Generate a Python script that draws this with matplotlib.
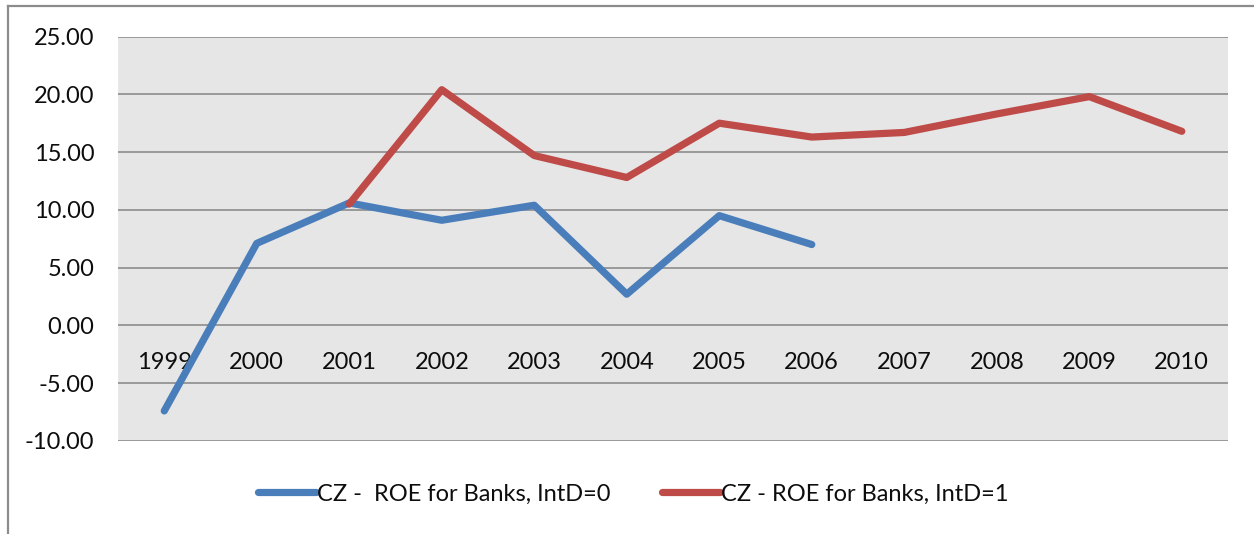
import matplotlib
matplotlib.use("Agg")
import matplotlib.pyplot as plt
from matplotlib.lines import Line2D
import numpy as np

years = ["1999", "2000", "2001", "2002", "2003", "2004",
         "2005", "2006", "2007", "2008", "2009", "2010"]
roe_intd0 = [-7.4, 7.1, 10.6, 9.1, 10.4, 2.7, 9.5, 7.0,
             np.nan, np.nan, np.nan, np.nan]
roe_intd1 = [np.nan, np.nan, 10.5, 20.4, 14.7, 12.8, 17.5, 16.3,
             16.7, 18.3, 19.8, 16.8]
y_ticks = [-10, -5, 0, 5, 10, 15, 20, 25]

label0 = "CZ -  ROE for Banks, IntD=0"
label1 = "CZ - ROE for Banks, IntD=1"

plt.rcParams["font.family"] = ["Lato", "DejaVu Sans"]
plt.rcParams["axes.unicode_minus"] = False

FS = 17
TEXT = "#0d0d0d"

fig = plt.figure(figsize=(12.54, 5.34), dpi=100)
ax = fig.add_axes([0.0941, 0.1742, 0.8852, 0.7574])
ax.set_facecolor("#e6e6e6")

x = np.arange(len(years))
ax.plot(x, roe_intd0, color="#4a7ebb", lw=5.2,
        solid_capstyle="round", solid_joinstyle="round", label=label0, zorder=3)
ax.plot(x, roe_intd1, color="#be4b48", lw=5.2,
        solid_capstyle="round", solid_joinstyle="round", label=label1, zorder=3)

ax.set_xlim(-0.5, len(years) - 0.5)
ax.set_ylim(-10, 25)
ax.set_yticks(y_ticks)
ax.set_yticklabels([f"{v:.2f}" for v in y_ticks])
ax.yaxis.grid(True, color="#8c8c8c", lw=1.2)
ax.set_axisbelow(True)

ax.set_xticks(x)
ax.set_xticklabels(years)
ax.spines["bottom"].set_position(("data", 0))
for s in ax.spines.values():
    s.set_visible(False)
ax.tick_params(axis="x", length=0, pad=19, labelsize=FS, colors=TEXT)
ax.tick_params(axis="y", length=0, pad=17, labelsize=FS, colors=TEXT)

leg = fig.legend(loc="center", bbox_to_anchor=(0.505, 0.075), ncol=2,
                 frameon=False, fontsize=FS, handlelength=2.45,
                 handletextpad=0.05, columnspacing=2.2, labelcolor=TEXT)
for h in leg.get_lines():
    h.set_solid_capstyle("round")

# outer chart frame
fig.add_artist(Line2D([7.5 / 1254, 7.5 / 1254], [0, 1 - 6 / 534],
                      transform=fig.transFigure, color="#8c8c8c", lw=1.6))
fig.add_artist(Line2D([7.5 / 1254, 1.0], [1 - 6 / 534, 1 - 6 / 534],
                      transform=fig.transFigure, color="#8c8c8c", lw=1.6))

fig.savefig("out.png", dpi=100)
